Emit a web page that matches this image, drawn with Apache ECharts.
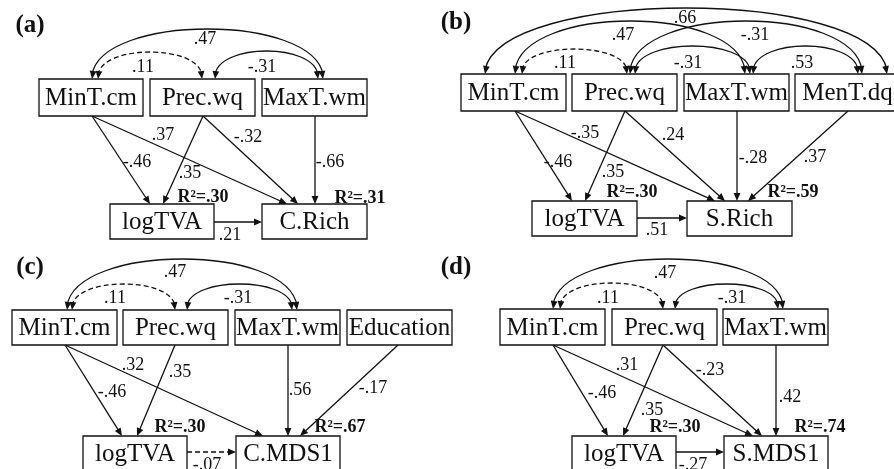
<!DOCTYPE html>
<html>
<head>
<meta charset="utf-8">
<script src="https://cdn.jsdelivr.net/npm/echarts@6/dist/echarts.min.js"></script>
<style>
html,body{margin:0;padding:0;background:#fff;}
#chart{width:894px;height:469px;}
</style>
</head>
<body>
<div id="chart"></div>
<script>
// ================= DATA =================
const panelTitles = ['(a)', '(b)', '(c)', '(d)'];

const nodesA = ['MinT.cm', 'Prec.wq', 'MaxT.wm', 'logTVA', 'C.Rich'];
const nodesB = ['MinT.cm', 'Prec.wq', 'MaxT.wm', 'MenT.dq', 'logTVA', 'S.Rich'];
const nodesC = ['MinT.cm', 'Prec.wq', 'MaxT.wm', 'Education', 'logTVA', 'C.MDS1'];
const nodesD = ['MinT.cm', 'Prec.wq', 'MaxT.wm', 'logTVA', 'S.MDS1'];

// [from, to, coefficient, significant]
const pathsA = [['MinT.cm','logTVA',-0.46,true],['MinT.cm','C.Rich',0.37,true],['Prec.wq','logTVA',0.35,true],['Prec.wq','C.Rich',-0.32,true],['MaxT.wm','C.Rich',-0.66,true],['logTVA','C.Rich',0.21,true]];
const pathsB = [['MinT.cm','logTVA',-0.46,true],['MinT.cm','S.Rich',-0.35,true],['Prec.wq','logTVA',0.35,true],['Prec.wq','S.Rich',0.24,true],['MaxT.wm','S.Rich',-0.28,true],['MenT.dq','S.Rich',0.37,true],['logTVA','S.Rich',0.51,true]];
const pathsC = [['MinT.cm','logTVA',-0.46,true],['MinT.cm','C.MDS1',0.32,true],['Prec.wq','logTVA',0.35,true],['MaxT.wm','C.MDS1',0.56,true],['Education','C.MDS1',-0.17,true],['logTVA','C.MDS1',-0.07,false]];
const pathsD = [['MinT.cm','logTVA',-0.46,true],['MinT.cm','S.MDS1',0.31,true],['Prec.wq','logTVA',0.35,true],['Prec.wq','S.MDS1',-0.23,true],['MaxT.wm','S.MDS1',0.42,true],['logTVA','S.MDS1',-0.27,true]];

// correlations [var1, var2, r, significant]
const corrA = [['MinT.cm','MaxT.wm',0.47,true],['MinT.cm','Prec.wq',0.11,false],['Prec.wq','MaxT.wm',-0.31,true]];
const corrB = [['MinT.cm','MenT.dq',0.66,true],['MinT.cm','MaxT.wm',0.47,true],['MinT.cm','Prec.wq',0.11,false],['Prec.wq','MenT.dq',-0.31,true],['Prec.wq','MaxT.wm',-0.31,true],['MaxT.wm','MenT.dq',0.53,true]];
const corrC = [['MinT.cm','MaxT.wm',0.47,true],['MinT.cm','Prec.wq',0.11,false],['Prec.wq','MaxT.wm',-0.31,true]];
const corrD = [['MinT.cm','MaxT.wm',0.47,true],['MinT.cm','Prec.wq',0.11,false],['Prec.wq','MaxT.wm',-0.31,true]];

// explained variance [variable, R2]
const r2A = [['logTVA',0.30],['C.Rich',0.31]];
const r2B = [['logTVA',0.30],['S.Rich',0.59]];
const r2C = [['logTVA',0.30],['C.MDS1',0.67]];
const r2D = [['logTVA',0.30],['S.MDS1',0.74]];

// ================= LAYOUT (diagram geometry, in axis units) =================
const layoutA = {
  title: [30, 26],
  boxes: [[39,79,143,116],[150,79,255,116],[262,79,367,116],[110,204,214,239],[262,204,367,239]],
  paths: [[92,116,150,204,137,162],[92,116,287,204,163,135],[203,116,163,204,190,173],[203,116,298,204,248,137],[315,116,315,204,330,162],[214,222,262,222,230,235]],
  corrs: [[92,323,79,30,205,39],[98,202,79,53,143,67],[215,318,79,52,262,67]],
  r2: [[203,197],[360,198]]
};
const layoutB = {
  title: [456, 23],
  boxes: [[461,74,566,111],[572,74,677,111],[684,74,789,111],[795,74,900,111],[532,201,637,236],[687,201,792,236]],
  paths: [[515,111,572,201,558,162],[515,111,715,201,585,133],[625,111,585,201,613,172],[625,111,725,201,673,135],[737,111,737,201,753,158],[848,111,748,201,815,157],[637,218,687,218,657,230]],
  corrs: [[485,887,74,9,685,18],[515,745,74,22,623,35],[522,627,74,50,565,63],[630,862,74,22,755,35],[635,750,74,47,688,63],[753,858,74,47,802,63]],
  r2: [[632,192],[793,192]]
};
const layoutC = {
  title: [30, 268],
  boxes: [[12,310,117,345],[123,310,228,345],[235,310,340,345],[347,310,452,345],[83,436,187,471],[236,436,340,471]],
  paths: [[65,345,122,436,112,392],[65,345,263,436,133,365],[175,345,137,436,180,372],[288,345,288,436,300,390],[398,345,300,436,373,388],[187,452,236,452,207,465]],
  corrs: [[67,297,310,260,175,272],[72,175,310,285,115,298],[187,292,310,285,238,298]],
  r2: [[180,427],[340,427]]
};
const layoutD = {
  title: [456, 268],
  boxes: [[500,309,605,345],[612,309,717,345],[723,309,828,345],[572,436,676,471],[724,436,828,471]],
  paths: [[553,345,608,436,602,393],[553,345,753,436,627,365],[663,345,623,436,652,410],[663,345,762,436,710,370],[776,345,776,436,790,397],[676,452,724,452,693,465]],
  corrs: [[553,783,309,260,665,273],[560,663,309,284,608,298],[675,778,309,285,732,298]],
  r2: [[675,427],[820,427]]
};

// ================= BUILD =================
const FONT = '"Liberation Serif", "Times New Roman", serif';
const INK = '#111';
const LW = 1.3;

function fmt(v) {
  const s = Math.abs(v).toFixed(2).replace(/^0/, '');
  return (v < 0 ? '-' : '') + s;
}

const panels = [
  {title: panelTitles[0], nodes: nodesA, paths: pathsA, corrs: corrA, r2: r2A, L: layoutA},
  {title: panelTitles[1], nodes: nodesB, paths: pathsB, corrs: corrB, r2: r2B, L: layoutB},
  {title: panelTitles[2], nodes: nodesC, paths: pathsC, corrs: corrC, r2: r2C, L: layoutC},
  {title: panelTitles[3], nodes: nodesD, paths: pathsD, corrs: corrD, r2: r2D, L: layoutD}
];

const items = [];
panels.forEach(p => {
  p.paths.forEach((d, i) => {
    items.push({kind: 'path', g: p.L.paths[i], sig: d[3], text: fmt(d[2])});
  });
  p.corrs.forEach((d, i) => {
    items.push({kind: 'corr', g: p.L.corrs[i], sig: d[3], text: fmt(d[2])});
  });
  p.nodes.forEach((n, i) => {
    items.push({kind: 'box', g: p.L.boxes[i], text: n});
  });
  p.r2.forEach((d, i) => {
    items.push({kind: 'r2', g: p.L.r2[i], text: 'R\u00b2=' + fmt(d[1])});
  });
  items.push({kind: 'title', g: p.L.title, text: p.title});
});

function arrowHead(tip, from, len, hw) {
  const dx = tip[0] - from[0], dy = tip[1] - from[1];
  const d = Math.sqrt(dx*dx + dy*dy) || 1;
  const ux = dx / d, uy = dy / d;
  const bx = tip[0] - ux*len, by = tip[1] - uy*len;
  return {
    type: 'polygon',
    shape: {points: [[tip[0], tip[1]], [bx - uy*hw, by + ux*hw], [bx + uy*hw, by - ux*hw]]},
    style: {fill: INK}
  };
}

function renderItem(params, api) {
  const it = items[params.dataIndex];
  const g = it.g;
  const c = (x, y) => api.coord([x, y]);
  if (it.kind === 'box') {
    const p0 = c(g[0], g[1]), p1 = c(g[2], g[3]);
    return {type: 'group', children: [
      {type: 'rect', shape: {x: p0[0], y: p0[1], width: p1[0]-p0[0], height: p1[1]-p0[1]},
        style: {fill: '#fff', stroke: INK, lineWidth: LW}},
      {type: 'text', style: {text: it.text, x: (p0[0]+p1[0])/2, y: (p0[1]+p1[1])/2 + 1,
        align: 'center', verticalAlign: 'middle', font: '25px ' + FONT, fill: INK}}
    ]};
  }
  if (it.kind === 'path') {
    const a = c(g[0], g[1]), b = c(g[2], g[3]), t = c(g[4], g[5]);
    const dx = b[0]-a[0], dy = b[1]-a[1], d = Math.sqrt(dx*dx+dy*dy);
    const e = [b[0] - dx/d*6, b[1] - dy/d*6];
    return {type: 'group', children: [
      {type: 'line', shape: {x1: a[0], y1: a[1], x2: e[0], y2: e[1]},
        style: {stroke: INK, lineWidth: LW, lineDash: it.sig ? null : [5, 3]}},
      arrowHead(b, a, 8, 3.4),
      {type: 'text', style: {text: it.text, x: t[0], y: t[1], align: 'center', verticalAlign: 'middle',
        font: '18px ' + FONT, fill: INK}}
    ]};
  }
  if (it.kind === 'corr') {
    const x1 = g[0], x2 = g[1], y = g[2], peak = g[3];
    const h = (y - peak) / 0.75;
    const a = (x2 - x1) * 0.04;
    const p0 = c(x1, y), p3 = c(x2, y), c1 = c(x1 + a, y - h), c2 = c(x2 - a, y - h);
    const t = c(g[4], g[5]);
    return {type: 'group', children: [
      {type: 'bezierCurve', shape: {x1: p0[0], y1: p0[1] - 4, x2: p3[0], y2: p3[1] - 4,
        cpx1: c1[0], cpy1: c1[1], cpx2: c2[0], cpy2: c2[1]},
        style: {stroke: INK, fill: null, lineWidth: LW, lineDash: it.sig ? null : [5, 3]}},
      arrowHead(p0, c1, 8, 3.4),
      arrowHead(p3, c2, 8, 3.4),
      {type: 'text', style: {text: it.text, x: t[0], y: t[1], align: 'center', verticalAlign: 'middle',
        font: '18px ' + FONT, fill: INK}}
    ]};
  }
  if (it.kind === 'r2') {
    const t = c(g[0], g[1]);
    return {type: 'text', style: {text: it.text, x: t[0], y: t[1], align: 'center', verticalAlign: 'middle',
      font: 'bold 18px ' + FONT, fill: INK}};
  }
  if (it.kind === 'title') {
    const t = c(g[0], g[1]);
    return {type: 'text', style: {text: it.text, x: t[0], y: t[1], align: 'center', verticalAlign: 'middle',
      font: 'bold 25px ' + FONT, fill: INK}};
  }
  return null;
}

const chart = echarts.init(document.getElementById('chart'), null, {renderer: 'canvas'});
chart.setOption({
  animation: false,
  backgroundColor: '#fff',
  grid: {left: 0, right: 0, top: 0, bottom: 0},
  xAxis: {type: 'value', min: 0, max: 894, show: false},
  yAxis: {type: 'value', min: 0, max: 469, inverse: true, show: false},
  series: [{
    type: 'custom',
    coordinateSystem: 'cartesian2d',
    clip: false,
    renderItem: renderItem,
    data: items.map(it => [it.g[0], it.g[1]])
  }]
});
</script>
</body>
</html>
